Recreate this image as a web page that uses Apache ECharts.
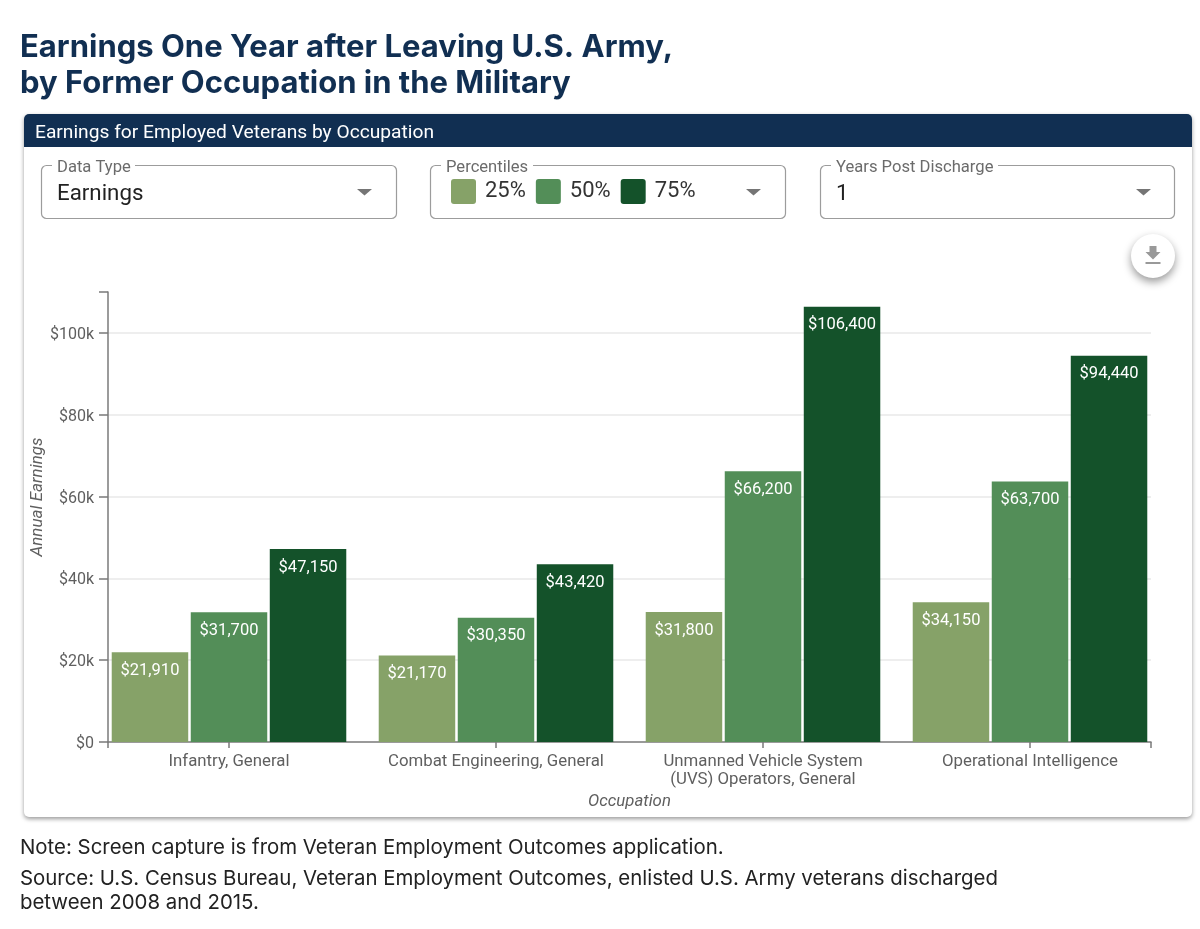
<!DOCTYPE html>
<html><head><meta charset="utf-8">
<style>html,body{margin:0;padding:0;background:#fff}#c{width:1200px;height:929px}</style>
<script src="https://cdn.jsdelivr.net/npm/echarts@6/dist/echarts.min.js"></script>
</head><body><div id="c"></div>
<script>
const categories = ['Infantry, General','Combat Engineering, General','Unmanned Vehicle System\n(UVS) Operators, General','Operational Intelligence'];
const p25 = [21910,21170,31800,34150];
const p50 = [31700,30350,66200,63700];
const p75 = [47150,43420,106400,94440];
const seriesNames = ['25%','50%','75%'];
const seriesColors = ['#86A268','#538E58','#14522A'];
const titleText = 'Earnings One Year after Leaving U.S. Army,\nby Former Occupation in the Military';
const noteText = 'Note: Screen capture is from Veteran Employment Outcomes application.';
const sourceText = 'Source: U.S. Census Bureau, Veteran Employment Outcomes, enlisted U.S. Army veterans discharged\nbetween 2008 and 2015.';

const R = 'Roboto', TICK = '#5f5f5f', AX = '#7a7a7a';
const T = 292, H = 450;
const chip = 'path://M3,0H22Q25,0 25,3V22Q25,25 22,25H3Q0,25 0,22V3Q0,0 3,0Z';
const box = (x,w,label,lw)=>[
 {type:'rect',z:1,shape:{x:x+.5,y:165.5,width:w,height:53,r:5},style:{fill:'#fff',stroke:'#9c9c9c',lineWidth:1.2}},
 {type:'rect',z:2,shape:{x:x+11,y:160,width:lw,height:10},style:{fill:'#fff'}},
 {type:'text',z:3,x:x+16,y:168,style:{text:label,font:'16.6px Roboto',fill:'#6b6b6b',verticalAlign:'middle'}},
 {type:'polygon',z:3,shape:{points:[[x+316,189],[x+331,189],[x+323.5,195.5]]},style:{fill:'#757575'}}
];
const option = {
 animation:false, backgroundColor:'#fff',
 title:[
  {text:titleText,left:20,top:30,padding:0,textStyle:{fontFamily:'Inter',fontWeight:700,fontSize:31,lineHeight:36,color:'#112F52'}},
  {text:noteText,left:20,top:836,padding:0,textStyle:{fontFamily:'Inter',fontWeight:400,fontSize:20.4,lineHeight:23,color:'#222'}},
  {text:sourceText,left:20,top:867,padding:0,textStyle:{fontFamily:'Inter',fontWeight:400,fontSize:20.4,lineHeight:24,color:'#222'}}
 ],
 legend:{left:451,top:179,padding:0,itemWidth:25,itemHeight:25,itemGap:10,icon:chip,selectedMode:false,z:5,
  data:seriesNames,textStyle:{fontFamily:R,fontSize:22,color:'#333',padding:[0,0,3,4]}},
 grid:[
  {left:95.5,width:1068,top:T,height:H},
  {left:108,width:1043,top:T,height:H}
 ],
 xAxis:[
  {type:'category',gridIndex:0,data:categories,axisLine:{show:false},
   axisTick:{show:true,alignWithLabel:true,length:6,lineStyle:{color:AX,width:1.5}},
   axisLabel:{fontFamily:R,fontSize:16.8,color:TICK,lineHeight:18,margin:11,interval:0}},
  {type:'value',gridIndex:1,min:0,max:1,interval:1,position:'bottom',
   name:'Occupation',nameLocation:'middle',nameGap:51,
   nameTextStyle:{fontFamily:R,fontStyle:'italic',fontSize:16.8,color:TICK},
   axisLine:{show:true,lineStyle:{color:AX,width:1.5}},
   axisTick:{show:true,length:6,lineStyle:{color:AX,width:1.5}},
   axisLabel:{show:false},splitLine:{show:false}}
 ],
 yAxis:[
  {type:'value',gridIndex:0,min:0,max:110000,show:false},
  {type:'value',gridIndex:1,min:0,max:110000,interval:20000,
   name:'Annual Earnings',nameLocation:'middle',nameGap:62,nameMoveOverlap:false,
   nameTextStyle:{fontFamily:R,fontStyle:'italic',fontSize:17,color:TICK,padding:[0,0,0,40]},
   axisLine:{show:true,lineStyle:{color:AX,width:1.5}},
   axisTick:{show:true,length:9,lineStyle:{color:AX,width:1.5}},
   axisLabel:{fontFamily:R,fontSize:16,color:TICK,margin:14,showMaxLabel:true,verticalAlign:'top',lineHeight:4,
     formatter:v=>v>100000?'':(v===0?'$0':'$'+v/1000+'k')},
   splitLine:{show:true,showMaxLine:false,showMinLine:false,lineStyle:{color:'#e8e8e8',width:1.5}}}
 ],
 series:[p25,p50,p75].map((d,i)=>({
  type:'bar',name:seriesNames[i],data:d,xAxisIndex:0,yAxisIndex:0,barWidth:76.5,barGap:'3.3%',
  itemStyle:{color:seriesColors[i]},
  label:{show:true,position:'insideTop',distance:10,fontFamily:R,fontSize:16.5,color:'#fff',
   formatter:p=>'$'+p.value.toLocaleString('en-US')}
 })),
 graphic:{elements:[
  {type:'rect',z:-3,shape:{x:24,y:114,width:1168,height:703,r:5},style:{fill:'#fff',shadowBlur:4,shadowOffsetY:2,shadowColor:'rgba(0,0,0,.4)'}},
  {type:'rect',z:-2,shape:{x:24,y:114,width:1168,height:33,r:[5,5,0,0]},style:{fill:'#112F52'}},
  {type:'text',z:-1,x:35,y:133,style:{text:'Earnings for Employed Veterans by Occupation',font:'19.2px Roboto',fill:'#fff',verticalAlign:'middle'}},
  ...box(41,355,'Data Type',83),
  {type:'text',z:3,x:57,y:194,style:{text:'Earnings',font:'22.3px Roboto',fill:'#222',verticalAlign:'middle'}},
  ...box(430,355,'Percentiles',92),
  ...box(820,354,'Years Post Discharge',167),
  {type:'text',z:3,x:836,y:194,style:{text:'1',font:'22.3px Roboto',fill:'#222',verticalAlign:'middle'}},
  {type:'circle',z:1,shape:{cx:1153,cy:256,r:22},style:{fill:'#fff',shadowBlur:9,shadowOffsetY:4,shadowColor:'rgba(0,0,0,.4)'}},
  {type:'polygon',z:3,shape:{points:[[1149.5,246],[1156.5,246],[1156.5,252],[1160.5,252],[1153,259.5],[1145.5,252],[1149.5,252]]},style:{fill:'#999'}},
  {type:'rect',z:3,shape:{x:1145.5,y:262,width:15,height:2},style:{fill:'#999'}}
 ]}
};
echarts.init(document.getElementById('c')).setOption(option);
</script></body></html>
